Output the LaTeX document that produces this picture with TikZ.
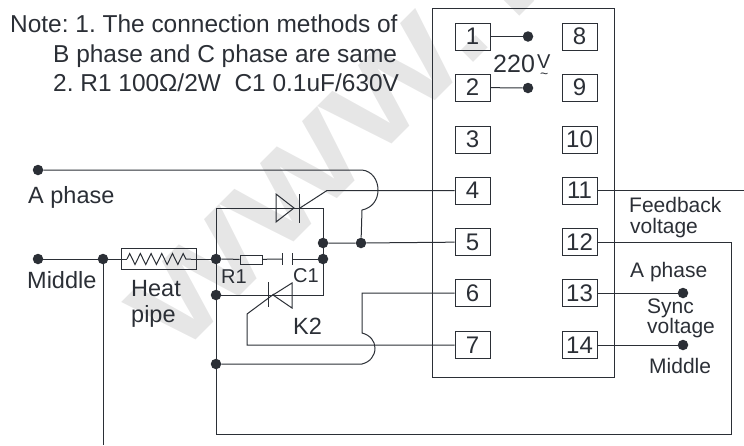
\documentclass[tikz,border=0pt]{standalone}
\usepackage{fontspec}
\setmainfont{Liberation Sans}
\newfontfamily\markfont[FakeStretch=1.28]{Liberation Sans}
\usetikzlibrary{decorations.pathmorphing}
\definecolor{ink}{HTML}{2B2F36}
\definecolor{mark}{HTML}{E6E6E6}
\tikzset{
  wire/.style={draw=ink,line width=1pt},
  dotnode/.style={circle,fill=ink,inner sep=0pt,minimum size=10.5pt},
  termbox/.style={draw=ink,line width=1pt,text=ink,inner sep=0pt,minimum width=35pt,minimum height=27pt,font=\fontsize{24}{24}\selectfont},
  lblnote/.style={anchor=base west,inner sep=0pt,text=ink,font=\fontsize{24.45}{25}\selectfont\frenchspacing},
  lblbig/.style={anchor=base west,inner sep=0pt,text=ink,font=\fontsize{23.5}{24}\selectfont},
  lblsmall/.style={anchor=base west,inner sep=0pt,text=ink,font=\fontsize{21}{22}\selectfont},
  lbltiny/.style={anchor=base west,inner sep=0pt,text=ink,font=\fontsize{20}{20}\selectfont}
}
\begin{document}
\begin{tikzpicture}[x=1pt,y=-1pt]
\useasboundingbox (0,0) rectangle (744,445);
% watermark
\begin{scope}
\clip (0,0) rectangle (744,445);
\node[anchor=base west,rotate=45,text=mark,inner sep=0pt,font=\fontsize{115}{115}\selectfont\markfont\bfseries] (mk) at (177,359) {WWW.T};
\end{scope}
% controller case and terminals
\node[draw=ink,line width=1pt,inner sep=0pt,minimum width=182pt,minimum height=369pt] (case) at (523,192.5) {};
\foreach \n/\x/\y in {1/472.5/36.5,2/472.5/87.5,3/472.5/139.5,4/472.5/190.5,5/472.5/242,6/472.5/293,7/472.5/345,
  8/579.5/36.5,9/579.5/87.5,10/579.5/139.5,11/579.5/190.5,12/579.5/242,13/579.5/293,14/579.5/345}
  \node[termbox] (t\n) at (\x,\y) {\n};
% junctions
\node[dotnode] (v1) at (528,36.5) {};
\node[dotnode] (v2) at (528,88) {};
\node[dotnode] (aph) at (38,170) {};
\node[dotnode] (mid) at (38,259) {};
\node[dotnode] (mid2) at (103,259) {};
\node[dotnode] (ja) at (216,259) {};
\node[dotnode] (jb) at (216,295) {};
\node[dotnode] (jc) at (216,364) {};
\node[dotnode] (jd) at (323,243) {};
\node[dotnode] (je) at (361,243) {};
\node[dotnode] (jf) at (323,259) {};
\node[dotnode] (syna) at (683,293) {};
\node[dotnode] (synb) at (683,345) {};
\coordinate (mid3) at (103,445);
\coordinate (fb) at (744,190.5);
\coordinate (topl) at (216,208);
\coordinate (topr) at (323,208);
\coordinate (botr) at (323,295);
\coordinate (botl) at (216,434);
\coordinate (botc) at (731,434);
\coordinate (topc) at (731,242);
\coordinate (a1) at (362,170);
\coordinate (a2) at (378,190);
\coordinate (a3) at (362,210);
\coordinate (b1) at (362,364);
\coordinate (b2) at (375,348);
\coordinate (b3) at (362,333);
\coordinate (b4) at (362,293);
\coordinate (ga) at (327,190.5);
\coordinate (gb) at (300,208);
\coordinate (gc) at (247,345);
\coordinate (gd) at (247,314);
\coordinate (ge) at (274,294);
% heat pipe
\node[draw=ink,line width=1pt,inner sep=0pt,minimum width=75pt,minimum height=21pt] (heat) at (158.5,258.5) {};
\coordinate (zl) at (127,259);
\coordinate (zr) at (191,259);
\draw[wire] (mid) -- (mid2) -- (zl);
\draw[wire,decorate,decoration={zigzag,segment length=10.7pt,amplitude=5.5pt}] (zl) -- (zr);
\draw[wire] (zr) -- (ja);
% R1 and C1
\node[draw=ink,line width=1pt,inner sep=0pt,minimum width=22pt,minimum height=9pt] (r1) at (251,259.5) {};
\coordinate (c1a) at (282,259);
\coordinate (c1b) at (292,259);
\draw[wire] (ja) -- (r1) (r1) -- (c1a);
\draw[wire] (c1b) -- (jf);
\draw[wire] (282,253) -- (282,265);
\draw[wire] (292,253) -- (292,265);
% K1
\draw[wire] (276,194) -- (294,208) -- (276,222) -- cycle;
\draw[wire] (299,194) -- (299,223);
% K2
\draw[wire] (292,283) -- (273,295) -- (292,308) -- cycle;
\draw[wire] (268,282) -- (268,307);
% wires
\draw[wire] (t1) -- (v1);
\draw[wire] (t2) -- (v2);
\draw[wire] (aph) -- (a1) .. controls (372,171) and (378,180) .. (a2) .. controls (378,200) and (372,208) .. (a3) -- (je);
\draw[wire] (t4) -- (ga) -- (gb);
\draw[wire] (jb) -- (botr) -- (jf) -- (jd) -- (topr) -- (topl) -- (ja) -- (jb) -- (jc) -- (botl) -- (botc) -- (topc) -- (t12);
\draw[wire] (jd) -- (je) -- (t5);
\draw[wire] (mid2) -- (mid3);
\draw[wire] (jc) -- (b1) .. controls (370,362) and (375,356) .. (b2) .. controls (375,341) and (370,335) .. (b3) -- (b4) -- (t6);
\draw[wire] (t7) -- (gc) -- (gd) -- (ge);
\draw[wire] (t11) -- (fb);
\draw[wire] (t13) -- (syna);
\draw[wire] (t14) -- (synb);
% labels
\node[lblnote] (note1) at (10,32) {Note: 1. The connection methods of};
\node[lblnote] (note2) at (53,62) {B phase and C phase are same};
\node[lblnote] (note3) at (53,91) {2. R1 100Ω/2W\ \ C1 0.1uF/630V};
\node[lblbig,font=\fontsize{25}{25}\selectfont] (volt) at (493,72) {220};
\node[lbltiny] (voltv) at (537,68) {V};
\node[lbltiny] (voltt) at (540,78) {\fontsize{14}{14}\selectfont \char`\~};
\node[lblbig] (aphl) at (28,203) {A phase};
\node[lblbig] (midl) at (27,288) {Middle};
\node[lblbig] (heatl) at (131,296) {Heat};
\node[lblbig] (pipel) at (131,322) {pipe};
\node[lbltiny] (r1l) at (221,283) {R1};
\node[lbltiny] (c1l) at (293,282) {C1};
\node[lblbig] (k2l) at (293,334) {K2};
\node[lblsmall] (fbl) at (629,212) {Feedback};
\node[lblsmall] (fbm) at (630,233) {voltage};
\node[lblsmall] (aphr) at (630,277) {A phase};
\node[lblsmall] (sync) at (647,313) {Sync};
\node[lblsmall] (syncv) at (647,333) {voltage};
\node[lblsmall] (midr) at (649,373) {Middle};
\end{tikzpicture}
\end{document}
